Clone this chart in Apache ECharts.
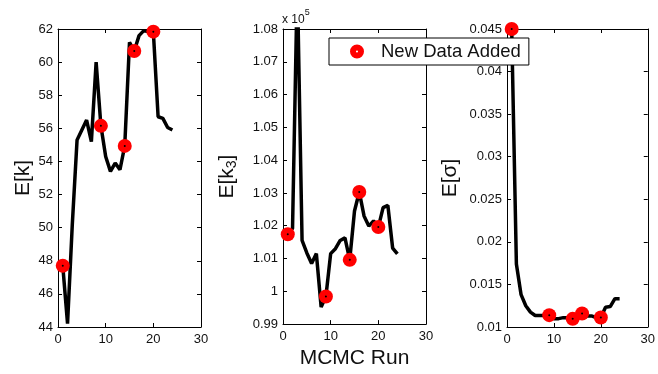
<!DOCTYPE html>
<html>
<head>
<meta charset="utf-8">
<script src="https://cdn.jsdelivr.net/npm/echarts@6/dist/echarts.min.js"></script>
<style>
html,body{margin:0;padding:0;background:#fff;}
#chart{width:658px;height:374px;}
</style>
</head>
<body>
<div id="chart"></div>
<script>
// ---- data ----
var runs = [1,2,3,4,5,6,7,8,9,10,11,12,13,14,15,16,17,18,19,20,21,22,23,24];
var kValues = [47.7,44.2,50.2,55.3,55.9,56.5,55.2,60.0,56.15,54.3,53.4,53.9,53.5,54.94,61.2,60.67,61.6,61.9,61.85,61.84,56.7,56.6,56.05,55.9];
// E[k3] in units of 1e5
var k3Values = [1.0174,1.0192,1.095,1.0155,1.0117,1.0085,1.0115,0.9952,0.9984,1.0115,1.0130,1.0155,1.0163,1.0096,1.0245,1.0303,1.0230,1.0199,1.0215,1.0196,1.0255,1.0262,1.0132,1.0114];
var sigmaValues = [0.045,0.0174,0.0138,0.0125,0.01175,0.01135,0.01135,0.01135,0.01139,0.01098,0.01098,0.0111,0.0111,0.01096,0.0113,0.01159,0.0113,0.0113,0.0111,0.01112,0.01233,0.0124,0.01333,0.01333];
var newDataRuns = [1,9,14,16,20];
var xTicks = {min:0, max:30, interval:10};
var kAxis = {min:44, max:62, interval:2};
var k3Axis = {min:0.99, max:1.08, interval:0.01};
var sigmaAxis = {min:0.01, max:0.045, interval:0.005};
var legendLabel = 'New Data Added';

// ---- build ----
var FONT = '"Liberation Sans", Arial, Helvetica, sans-serif';
function pairs(vals){ return runs.map(function(r,i){ return [r, vals[i]]; }); }
function markers(vals){ return newDataRuns.map(function(r){ return [r, vals[runs.indexOf(r)]]; }); }

var grids = [
  {left:58, right:457, top:29, bottom:47},
  {left:283, right:232, top:29, bottom:47},
  {left:507, right:7, top:29, bottom:47}
];
var yDefs = [
  {ax:kAxis, name:'E[k]', gap:24},
  {ax:k3Axis, name:'{a|E[k}{s|3}{a|]}', gap:44},
  {ax:sigmaAxis, name:'E[σ]', gap:46}
];
var lineStyleAxis = {color:'#000', width:1};
var xAxes = [], yAxes = [], series = [];
var vals = [kValues, k3Values, sigmaValues];
grids.forEach(function(g, i){
  xAxes.push({
    type:'value', gridIndex:i, min:xTicks.min, max:xTicks.max, interval:xTicks.interval,
    position:'bottom',
    axisLine:{show:true, onZero:false, lineStyle:lineStyleAxis},
    axisTick:{show:true, inside:true, length:4, lineStyle:lineStyleAxis},
    axisLabel:{color:'#111', fontSize:13, fontFamily:FONT, margin:6},
    splitLine:{show:false},
    name: i===1 ? 'MCMC Run' : '',
    nameLocation:'middle', nameGap:16,
    nameTextStyle:{color:'#111', fontSize:21, fontFamily:FONT, verticalAlign:'top'}
  });
  xAxes.push({
    type:'value', gridIndex:i, min:xTicks.min, max:xTicks.max, interval:xTicks.interval,
    position:'top',
    axisLine:{show:true, onZero:false, lineStyle:lineStyleAxis},
    axisTick:{show:true, inside:true, length:4, lineStyle:lineStyleAxis},
    axisLabel:{show:false}, splitLine:{show:false}
  });
  var yd = yDefs[i];
  yAxes.push({
    type:'value', gridIndex:i, min:yd.ax.min, max:yd.ax.max, interval:yd.ax.interval,
    position:'left',
    axisLine:{show:true, onZero:false, lineStyle:lineStyleAxis},
    axisTick:{show:true, inside:true, length:4, lineStyle:lineStyleAxis},
    axisLabel:{color:'#111', fontSize:13, fontFamily:FONT, margin:5},
    splitLine:{show:false},
    name: yd.name, nameLocation:'middle', nameGap: yd.gap, nameRotate:90,
    nameTextStyle:{color:'#111', fontSize:21, fontFamily:FONT,
      rich:{
        a:{fontSize:21, fontFamily:FONT, color:'#111', verticalAlign:'top', lineHeight:22},
        s:{fontSize:14, fontFamily:FONT, color:'#111', verticalAlign:'bottom', lineHeight:14, padding:[14,0,0,0]}
      }}
  });
  yAxes.push({
    type:'value', gridIndex:i, min:yd.ax.min, max:yd.ax.max, interval:yd.ax.interval,
    position:'right',
    axisLine:{show:true, onZero:false, lineStyle:lineStyleAxis},
    axisTick:{show:true, inside:true, length:4, lineStyle:lineStyleAxis},
    axisLabel:{show:false}, splitLine:{show:false}
  });
  series.push({
    type:'line', xAxisIndex:2*i, yAxisIndex:2*i, data:pairs(vals[i]),
    symbol:'none', clip:true, lineStyle:{color:'#000', width:3.5}, silent:true, z:2
  });
  series.push({
    type:'scatter', name:legendLabel, xAxisIndex:2*i, yAxisIndex:2*i, data:markers(vals[i]),
    symbol:'circle', symbolSize:14, itemStyle:{color:'#ff0000', opacity:1}, clip:false, z:3
  });
  series.push({
    type:'scatter', xAxisIndex:2*i, yAxisIndex:2*i, data:markers(vals[i]),
    symbol:'circle', symbolSize:2, itemStyle:{color:'#000', opacity:1}, clip:false, z:4, silent:true
  });
});

var chart = echarts.init(document.getElementById('chart'), null, {renderer:'canvas'});
chart.setOption({
  animation:false,
  backgroundColor:'#fff',
  grid:grids,
  xAxis:xAxes,
  yAxis:yAxes,
  legend:{
    data:[{name:legendLabel, icon:'path://M10,0A10,10,0,1,1,10,20A10,10,0,1,1,10,0ZM10,8.5A1.5,1.5,0,1,0,10,11.5A1.5,1.5,0,1,0,10,8.5Z', itemStyle:{color:'#ff0000', opacity:1}}],
    left:329, top:38, orient:'horizontal',
    itemWidth:14, itemHeight:14,
    padding:[4,8,4,21],
    backgroundColor:'#fff', borderColor:'#000', borderWidth:1, borderRadius:0,
    textStyle:{color:'#111', fontSize:18.5, fontFamily:FONT, padding:[0,0,0,12]},
    z:20
  },
  graphic:[{
    type:'text', left:282, top:8, z:20,
    style:{
      text:'{a|x 10}{b|5}',
      rich:{
        a:{fontSize:12, fontFamily:FONT, fill:'#111', verticalAlign:'bottom', lineHeight:18},
        b:{fontSize:9, fontFamily:FONT, fill:'#111', verticalAlign:'top', lineHeight:18}
      }
    }
  }],
  series:series
});
</script>
</body>
</html>
